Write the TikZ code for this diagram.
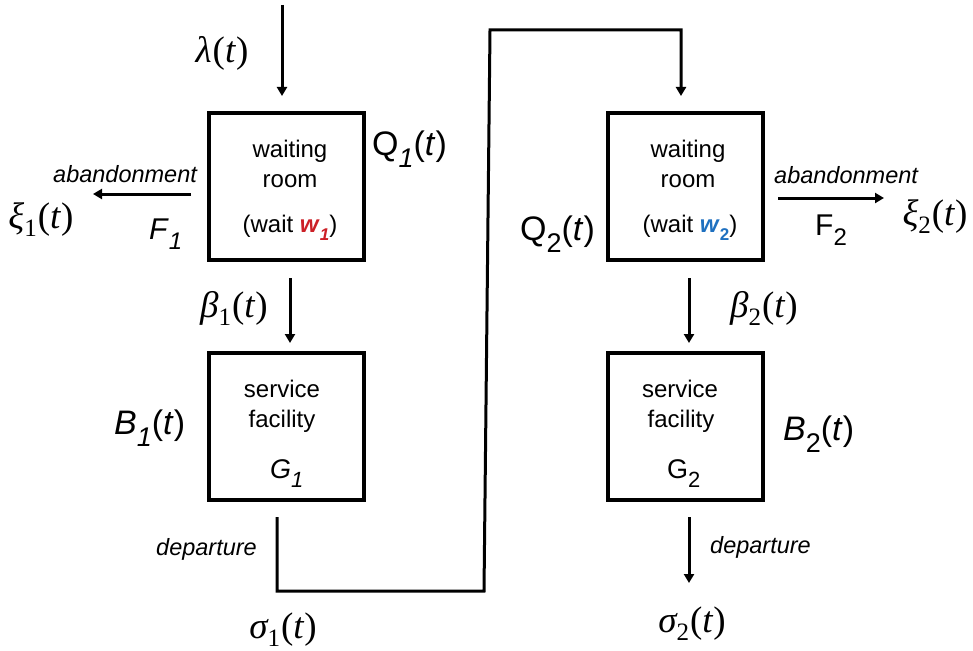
\documentclass[tikz,border=0pt]{standalone}
\usepackage{fontspec}
\setmainfont{Liberation Sans}
\newfontfamily\tms{Liberation Serif}
\usetikzlibrary{arrows.meta}
\definecolor{wred}{RGB}{204,32,39}
\definecolor{wblue}{RGB}{30,112,192}
\newcommand\bsub[2]{\raisebox{-0.36em}{\fontsize{#1}{#1}\selectfont #2}}
\newcommand\gsub[1]{\raisebox{-0.22em}{\fontsize{25}{25}\selectfont\upshape #1}}
\newcommand\glab[2]{{\tms\itshape #1\gsub{#2}\kern1pt\upshape(\textit{t})}}
\begin{document}
\begin{tikzpicture}[x=1pt,y=-1pt,
  box/.style={draw,line width=4pt,inner sep=0pt,minimum width=155pt,minimum height=147pt},
  conn/.style={line width=3pt},
  arr/.style={line width=3pt,-{Triangle[length=9pt,width=10pt]}},
  txt/.style={inner sep=0pt,anchor=base,font=\fontsize{24}{24}\selectfont},
  itl/.style={inner sep=0pt,anchor=base west,font=\fontsize{23.5}{24}\selectfont\itshape},
  big/.style={inner sep=0pt,anchor=base west,font=\fontsize{34}{34}\selectfont},
  fl/.style={inner sep=0pt,anchor=base west,font=\fontsize{30}{30}\selectfont},
  gl/.style={inner sep=0pt,anchor=base west,font=\fontsize{27}{27}\selectfont},
  mth/.style={inner sep=0pt,anchor=base,font=\fontsize{37}{40}\selectfont}]
\useasboundingbox (0,0) rectangle (973,650);
% boxes
\node[box] (wr1) at (286.5,186.5) {};
\node[box] (sf1) at (286.5,426) {};
\node[box] (wr2) at (685,186.5) {};
\node[box] (sf2) at (685,426) {};
% box texts
\node[txt] (w1a) at (290,157) {waiting};
\node[txt] (w1b) at (290,187) {room};
\node[txt] (w1c) at (290,232) {(wait \textcolor{wred}{\textbf{\textit{w}\bsub{17}{\textit{1}}}})};
\node[txt] (w2a) at (688,157) {waiting};
\node[txt] (w2b) at (688,187) {room};
\node[txt] (w2c) at (690,232) {(wait \textcolor{wblue}{\textbf{\textit{w}\bsub{17}{2}}})};
\node[txt] (s1a) at (282,397) {service};
\node[txt] (s1b) at (282,427) {facility};
\node[txt] (s2a) at (680,397) {service};
\node[txt] (s2b) at (681,427) {facility};
\node[gl] (g1) at (270,478) {\textit{G}\bsub{22}{\textit{1}}};
\node[gl] (g2) at (667,478) {G\bsub{22}{2}};
% side labels
\node[big] (q1) at (372,155) {Q\bsub{27}{\textit{1}}(\textit{t})};
\node[big] (q2) at (520,240) {Q\bsub{27}{2}(\textit{t})};
\node[big] (b1) at (114,434) {\textit{B}\bsub{27}{\textit{1}}(\textit{t})};
\node[big] (b2) at (783,440) {\textit{B}\bsub{27}{2}(\textit{t})};
\node[fl] (f1) at (149,239) {\textit{F}\bsub{24}{\textit{1}}};
\node[fl] (f2) at (815,235) {F\bsub{24}{2}};
\node[itl] (ab1) at (53,182) {abandonment};
\node[itl] (ab2) at (774,183) {abandonment};
\node[itl] (dp1) at (156,555) {departure};
\node[itl] (dp2) at (710,553) {departure};
% Greek labels
\node[mth] (lam) at (222,63) {\glab{λ}{}};
\node[mth] (xi1) at (41,228) {\glab{ξ}{1}};
\node[mth] (be1) at (234,317) {\glab{β}{1}};
\node[mth] (si1) at (283,638) {\glab{σ}{1}};
\node[mth] (xi2) at (935,225) {\glab{ξ}{2}};
\node[mth] (be2) at (764,317) {\glab{β}{2}};
\node[mth] (si2) at (692,632) {\glab{σ}{2}};
% connector end points
\coordinate (lamS) at (282,5);
\coordinate (lamE) at (282,96);
\coordinate (a1S) at (191,194);
\coordinate (a1E) at (93,194);
\coordinate (a2S) at (778,198);
\coordinate (a2E) at (884,198);
\coordinate (bt1S) at (290,278);
\coordinate (bt1E) at (290,343);
\coordinate (bt2S) at (689,278);
\coordinate (bt2E) at (689,343);
\coordinate (d2S) at (689,517);
\coordinate (d2E) at (689,583);
\coordinate (r0) at (277,517);
\coordinate (r1) at (277,591);
\coordinate (r2) at (484,591);
\coordinate (r3) at (490,30);
\coordinate (r4) at (681,30);
\coordinate (r5) at (681,96);
% connectors
\draw[arr] (lamS) -- (lamE);
\draw[arr] (a1S) -- (a1E);
\draw[arr] (a2S) -- (a2E);
\draw[arr] (bt1S) -- (bt1E);
\draw[arr] (bt2S) -- (bt2E);
\draw[arr] (d2S) -- (d2E);
\draw[arr,line join=miter] (r0) -- (r1) -- (r2) -- (r3) -- (r4) -- (r5);
\end{tikzpicture}
\end{document}
